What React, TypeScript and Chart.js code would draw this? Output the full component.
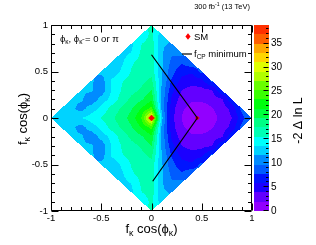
import { useEffect, useRef } from 'react';
import { Chart, registerables } from 'chart.js';

Chart.register(...registerables);

const FONT = "'Liberation Sans', Arial, Helvetica, sans-serif";

// grid of -2 Delta ln L values, rows from y=+1 down to y=-1
const GRID_X = [-1, -0.9, -0.8, -0.7, -0.6, -0.5, -0.4, -0.3, -0.2, -0.1, 0, 0.1, 0.2, 0.3, 0.4, 0.5, 0.6, 0.7, 0.8, 0.9, 1];
const GRID_Y = [1, 0.9, 0.8, 0.7, 0.6, 0.5, 0.4, 0.3, 0.2, 0.1, 0, -0.1, -0.2, -0.3, -0.4, -0.5, -0.6, -0.7, -0.8, -0.9, -1];
const _ = null;
const ROW_P10 = [_, _, _, _, _, _, _, _, _, _, 16, _, _, _, _, _, _, _, _, _, _];
const ROW_P09 = [_, _, _, _, _, _, _, _, _, 13.8, 16.2, 12.5, _, _, _, _, _, _, _, _, _];
const ROW_P08 = [_, _, _, _, _, _, _, _, 13.2, 15.5, 16.5, 12, 11.5, _, _, _, _, _, _, _, _];
const ROW_P07 = [_, _, _, _, _, _, _, 12.8, 13.7, 15.9, 16.5, 12, 10, 10.5, _, _, _, _, _, _, _];
const ROW_P06 = [_, _, _, _, _, _, 12.5, 13.2, 15.3, 16.2, 16.6, 12, 9.3, 8, 9.5, _, _, _, _, _, _];
const ROW_P05 = [_, _, _, _, _, 12.2, 12, 13.9, 15.7, 16.3, 16.8, 12, 8.5, 6.5, 6.2, 8.5, _, _, _, _, _];
const ROW_P04 = [_, _, _, _, 12, 10.6, 13.9, 15.4, 16.2, 17, 18, 11.8, 7.6, 5.3, 4.6, 5.2, 8.5, _, _, _, _];
const ROW_P03 = [_, _, _, 12, 12, 10.3, 13.6, 15.6, 16.8, 17.8, 19.5, 11.5, 6.5, 3.9, 3.2, 3.3, 3.8, 8, _, _, _];
const ROW_P02 = [_, _, 12, 12, 10.3, 12.4, 14.3, 16.3, 18, 19.2, 21, 11.3, 5.5, 3.0, 2.2, 2.2, 2.6, 3.6, 7.5, _, _];
const ROW_P01 = [_, 12.2, 12.2, 10.9, 12.6, 14.2, 16.2, 17.8, 19.3, 21.5, 24, 11.5, 4.8, 2.2, 1.3, 1.2, 1.8, 2.8, 4.5, 8.5, _];
const ROW_000 = [12.3, 12.5, 12.9, 13.6, 14.5, 15.6, 17.1, 18.5, 20.2, 23.5, 33, 12.5, 4.5, 1.9, 0.8, 0.5, 1.3, 2.4, 3.9, 7, 10.5];
const ROW_M01 = [_, 12.2, 12.2, 10.9, 12.6, 14.2, 16.2, 17.8, 19.3, 21.5, 24, 11.5, 4.8, 2.2, 1.3, 1.2, 1.8, 2.8, 4.5, 8.5, _];
const ROW_M02 = [_, _, 12, 12, 10.3, 12.4, 14.3, 16.3, 18, 19.2, 21, 11.3, 5.5, 3.0, 2.2, 2.2, 2.6, 3.6, 7.5, _, _];
const ROW_M03 = [_, _, _, 12, 12, 10.3, 13.6, 15.6, 16.8, 17.8, 19.5, 11.5, 6.5, 3.9, 3.2, 3.3, 3.8, 8, _, _, _];
const ROW_M04 = [_, _, _, _, 12, 10.6, 13.9, 15.4, 16.2, 17, 18, 11.8, 7.6, 5.3, 4.6, 5.2, 8.5, _, _, _, _];
const ROW_M05 = [_, _, _, _, _, 12.2, 12, 13.9, 15.7, 16.3, 16.8, 12, 8.5, 6.5, 6.2, 8.5, _, _, _, _, _];
const ROW_M06 = [_, _, _, _, _, _, 12.5, 13.2, 15.3, 16.2, 16.6, 12, 9.3, 8, 9.5, _, _, _, _, _, _];
const ROW_M07 = [_, _, _, _, _, _, _, 12.8, 13.7, 15.9, 16.5, 12, 10, 10.5, _, _, _, _, _, _, _];
const ROW_M08 = [_, _, _, _, _, _, _, _, 13.2, 15.5, 16.5, 12, 11.5, _, _, _, _, _, _, _, _];
const ROW_M09 = [_, _, _, _, _, _, _, _, _, 13.8, 16.2, 12.5, _, _, _, _, _, _, _, _, _];
const ROW_M10 = [_, _, _, _, _, _, _, _, _, _, 16, _, _, _, _, _, _, _, _, _, _];
const Z_ROWS = [ROW_P10, ROW_P09, ROW_P08, ROW_P07, ROW_P06, ROW_P05, ROW_P04, ROW_P03, ROW_P02, ROW_P01, ROW_000,
  ROW_M01, ROW_M02, ROW_M03, ROW_M04, ROW_M05, ROW_M06, ROW_M07, ROW_M08, ROW_M09, ROW_M10];

const DOMAIN_RADIUS = 1; // |x|+|y| <= 1
const Z_MAX = 38.9;
const Z_TICKS = [0, 5, 10, 15, 20, 25, 30, 35];
const X_TICKS = [-1, -0.5, 0, 0.5, 1];
const Y_TICKS = [-1, -0.5, 0, 0.5, 1];

const FCP_MIN_X = [0, 0.456, 0.012];
const FCP_MIN_Y = [0.68, 0, -0.68];
const SM_X = [0];
const SM_Y = [0];
const BEST_X = [0.456];
const BEST_Y = [0];

const PALETTE = ['#9200ff', '#6300ff', '#1b00ff', '#0014ff', '#005cff', '#008bff', '#00d3ff', '#00fffc', '#00ffb4', '#00ff85',
  '#00ff3d', '#00ff0e', '#3aff00', '#69ff00', '#b1ff00', '#e0ff00', '#ffd600', '#ffa700', '#ff5f00', '#ff3000'];

type Part = { t: string; sub?: boolean; sup?: boolean };

function partFont(size: number, p: Part) {
  const s = p.sub || p.sup ? size * 0.68 : size;
  return `${s}px ${FONT}`;
}

function drawRich(ctx: CanvasRenderingContext2D, parts: Part[], x: number, y: number, size: number, align: string) {
  const widths = parts.map((p) => { ctx.font = partFont(size, p); return ctx.measureText(p.t).width; });
  const total = widths.reduce((a, b) => a + b, 0);
  let cx = align === 'center' ? x - total / 2 : align === 'right' ? x - total : x;
  ctx.textAlign = 'left';
  ctx.textBaseline = 'alphabetic';
  parts.forEach((p, i) => {
    ctx.font = partFont(size, p);
    const dy = p.sub ? size * 0.25 : p.sup ? -size * 0.4 : 0;
    ctx.fillText(p.t, cx, y + dy);
    cx += widths[i];
  });
}

function hexRgb(h: string) {
  return [parseInt(h.slice(1, 3), 16), parseInt(h.slice(3, 5), 16), parseInt(h.slice(5, 7), 16)];
}

const heatmapPlugin = {
  id: 'heatmap',
  beforeDatasetsDraw(chart: any) {
    const { ctx, chartArea: ca, scales } = chart;
    const xs = scales.x, ys = scales.y;
    const w = Math.round(ca.right - ca.left), h = Math.round(ca.bottom - ca.top);
    const off = document.createElement('canvas');
    off.width = w; off.height = h;
    const octx = off.getContext('2d')!;
    const img = octx.createImageData(w, h);
    const rgb = PALETTE.map(hexRgb);
    const nx = GRID_X.length, ny = GRID_Y.length;
    const dx = GRID_X[1] - GRID_X[0], dy = GRID_Y[0] - GRID_Y[1];
    const step = Z_MAX / PALETTE.length;
    for (let py = 0; py < h; py++) {
      const y = ys.getValueForPixel(ca.top + py + 0.5);
      for (let px = 0; px < w; px++) {
        const x = xs.getValueForPixel(ca.left + px + 0.5);
        if (Math.abs(x) + Math.abs(y) > DOMAIN_RADIUS) continue;
        const fi = (x - GRID_X[0]) / dx;
        const fj = (GRID_Y[0] - y) / dy;
        const i0 = Math.max(0, Math.min(nx - 2, Math.floor(fi)));
        const j0 = Math.max(0, Math.min(ny - 2, Math.floor(fj)));
        const tx = fi - i0, ty = fj - j0;
        const c = [Z_ROWS[j0][i0], Z_ROWS[j0][i0 + 1], Z_ROWS[j0 + 1][i0], Z_ROWS[j0 + 1][i0 + 1]];
        const valid = c.filter((v) => v !== null) as number[];
        if (!valid.length) continue;
        const avg = valid.reduce((a, b) => a + b, 0) / valid.length;
        const v = c.map((q) => (q === null ? avg : q)) as number[];
        const z = v[0] * (1 - tx) * (1 - ty) + v[1] * tx * (1 - ty) + v[2] * (1 - tx) * ty + v[3] * tx * ty;
        const k = Math.max(0, Math.min(PALETTE.length - 1, Math.floor(z / step)));
        const o = (py * w + px) * 4;
        img.data[o] = rgb[k][0]; img.data[o + 1] = rgb[k][1]; img.data[o + 2] = rgb[k][2]; img.data[o + 3] = 255;
      }
    }
    octx.putImageData(img, 0, 0);
    ctx.drawImage(off, ca.left, ca.top);
  },
};

const decorPlugin = {
  id: 'decor',
  afterDraw(chart: any) {
    const { ctx, chartArea: ca, scales } = chart;
    const xs = scales.x, ys = scales.y, zs = scales.z;
    ctx.save();
    ctx.strokeStyle = '#000';
    ctx.fillStyle = '#000';
    ctx.lineWidth = 1;
    const L = Math.round(ca.left) + 0.5, R = Math.round(ca.right) - 0.5;
    const T = Math.round(ca.top) + 0.5, B = Math.round(ca.bottom) - 0.5;
    ctx.beginPath();
    ctx.rect(L, T, R - L, B - T);
    // frame ticks
    for (let i = -10; i <= 10; i++) {
      const v = i / 10;
      const len = i % 5 === 0 ? 7 : 3.5;
      const px = Math.round(xs.getPixelForValue(v)) + 0.5;
      ctx.moveTo(px, B); ctx.lineTo(px, B - len);
      ctx.moveTo(px, T); ctx.lineTo(px, T + len);
      const py = Math.round(ys.getPixelForValue(v)) + 0.5;
      ctx.moveTo(L, py); ctx.lineTo(L + len, py);
      ctx.moveTo(R, py); ctx.lineTo(R - len, py);
    }
    ctx.stroke();

    // colour bar
    const barL = Math.round(zs.left) + 2, barW = 15;
    const step = Z_MAX / PALETTE.length;
    PALETTE.forEach((col, k) => {
      const y0 = Math.round(zs.getPixelForValue(k * step));
      const y1 = Math.round(zs.getPixelForValue((k + 1) * step));
      ctx.fillStyle = col;
      ctx.fillRect(barL, y1, barW, y0 - y1);
    });
    ctx.beginPath();
    const barR = barL + barW - 0.5;
    for (let v = 0; v <= Math.floor(Z_MAX); v++) {
      const py = Math.round(zs.getPixelForValue(v)) - 0.5;
      const len = v % 5 === 0 ? 5 : 2.5;
      ctx.moveTo(barR, py); ctx.lineTo(barR - len, py);
    }
    ctx.strokeStyle = '#000';
    ctx.stroke();

    ctx.fillStyle = '#000';
    // axis titles
    const kap: Part[] = [{ t: 'f' }, { t: 'κ', sub: true }, { t: ' cos(' }, { t: 'ϕ' }, { t: 'κ', sub: true }, { t: ')' }];
    drawRich(ctx, kap, (ca.left + ca.right) / 2, ca.bottom + 22, 13, 'center');
    ctx.save();
    ctx.translate(ca.left - 24, ca.top + 94);
    ctx.rotate(-Math.PI / 2);
    drawRich(ctx, kap, 0, 0, 13, 'center');
    ctx.restore();
    ctx.save();
    ctx.translate(zs.left + 50, ca.top + 95.5);
    ctx.rotate(-Math.PI / 2);
    drawRich(ctx, [{ t: '-2 Δ ln L' }], 0, 0, 12.5, 'center');
    ctx.restore();

    // annotations
    drawRich(ctx, [{ t: '300 fb' }, { t: '-1', sup: true }, { t: ' (13 TeV)' }], ca.right - 2, 9, 7.5, 'right');
    drawRich(ctx, [{ t: 'ϕ' }, { t: 'κ', sub: true }, { t: ', ϕ' }, { t: 'κ̃', sub: true }, { t: ' = 0 or π' }], ca.left + 9, ca.top + 17, 9.5, 'left');

    // legend
    const mx = ca.left + 137, my = ca.top + 11.5;
    ctx.fillStyle = '#ff0000';
    ctx.beginPath();
    ctx.moveTo(mx, my - 3.2); ctx.lineTo(mx + 2.6, my); ctx.lineTo(mx, my + 3.2); ctx.lineTo(mx - 2.6, my); ctx.closePath();
    ctx.fill();
    ctx.fillStyle = '#000';
    drawRich(ctx, [{ t: 'SM' }], ca.left + 143, ca.top + 15.3, 9.5, 'left');
    ctx.beginPath();
    ctx.moveTo(ca.left + 131, ca.top + 29); ctx.lineTo(ca.left + 141, ca.top + 29);
    ctx.lineWidth = 1.2;
    ctx.stroke();
    drawRich(ctx, [{ t: 'f' }, { t: 'CP', sub: true }, { t: ' minimum' }], ca.left + 143, ca.top + 31.5, 9.5, 'left');
    ctx.restore();
  },
};

const fmt = (v: any) => String(Number(v));

export default function App() {
  const ref = useRef<HTMLCanvasElement>(null);
  useEffect(() => {
    Chart.defaults.font.family = FONT;
    Chart.defaults.color = '#000';
    const tickFont = { size: 9.5, family: FONT };
    const chart = new Chart(ref.current!, {
      type: 'scatter',
      data: {
        datasets: [
          {
            label: 'f_CP minimum',
            data: FCP_MIN_X.map((x, i) => ({ x, y: FCP_MIN_Y[i] })),
            showLine: true,
            borderColor: '#000',
            borderWidth: 1.2,
            pointRadius: 0,
            xAxisID: 'x',
            yAxisID: 'y',
          },
          {
            label: 'SM',
            data: SM_X.map((x, i) => ({ x, y: SM_Y[i] })),
            pointStyle: 'rectRot',
            pointRadius: 3,
            backgroundColor: '#ff0000',
            borderColor: '#d00000',
            borderWidth: 0.5,
            xAxisID: 'x',
            yAxisID: 'y',
          },
          {
            label: 'best',
            data: BEST_X.map((x, i) => ({ x, y: BEST_Y[i] })),
            pointStyle: 'rectRot',
            pointRadius: 2,
            backgroundColor: '#ff0000',
            borderColor: '#d00000',
            borderWidth: 0.5,
            xAxisID: 'x',
            yAxisID: 'y',
          },
        ],
      } as any,
      options: {
        animation: false,
        responsive: false,
        devicePixelRatio: 1,
        layout: { padding: { top: 13, left: 0, right: 0, bottom: 0 } },
        plugins: { legend: { display: false }, tooltip: { enabled: false }, title: { display: false } },
        scales: {
          x: {
            type: 'linear', position: 'bottom', min: -1, max: 1,
            grid: { display: false, drawTicks: false }, border: { display: false },
            ticks: { font: tickFont, color: '#000', padding: 2, maxRotation: 0, autoSkip: false, callback: fmt },
            afterBuildTicks: (s: any) => { s.ticks = X_TICKS.map((value) => ({ value })); },
            afterFit: (s: any) => { s.height = 34; },
          },
          y: {
            type: 'linear', position: 'left', min: -1, max: 1,
            grid: { display: false, drawTicks: false }, border: { display: false },
            ticks: { font: tickFont, color: '#000', padding: 3, autoSkip: false, callback: fmt },
            afterBuildTicks: (s: any) => { s.ticks = Y_TICKS.map((value) => ({ value })); },
            afterFit: (s: any) => { s.width = 51; },
          },
          z: {
            type: 'linear', axis: 'y', position: 'right', min: 0, max: Z_MAX,
            grid: { display: false, drawTicks: false }, border: { display: false },
            ticks: { font: { size: 10, family: FONT }, color: '#000', padding: 19, autoSkip: false, callback: fmt },
            afterBuildTicks: (s: any) => { s.ticks = Z_TICKS.map((value) => ({ value })); },
            afterFit: (s: any) => { s.width = 64; },
          },
        },
      } as any,
      plugins: [heatmapPlugin, decorPlugin],
    });
    return () => chart.destroy();
  }, []);
  return (
    <div style={{ position: 'absolute', left: 0, top: 0, width: 316, height: 245, background: '#fff' }}>
      <canvas ref={ref} width={316} height={245} style={{ display: 'block', width: 316, height: 245 }} />
    </div>
  );
}
